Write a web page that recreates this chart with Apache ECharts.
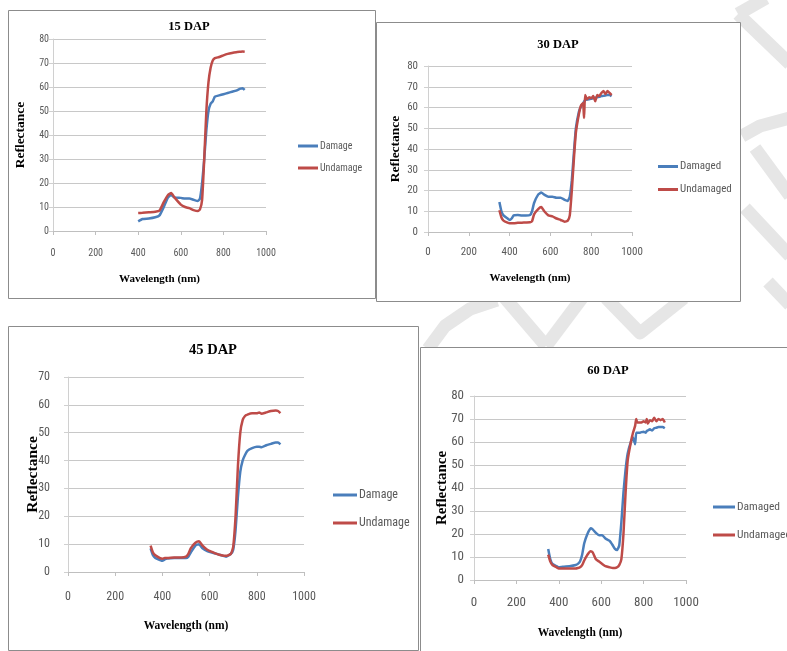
<!DOCTYPE html>
<html>
<head>
<meta charset="utf-8">
<script src="https://cdn.jsdelivr.net/npm/echarts@6/dist/echarts.min.js"></script>
<style>
html,body{margin:0;padding:0;background:#fff;}
#c{width:787px;height:651px;}
</style>
</head>
<body>
<div id="c"></div>
<script>
// ---- Data ----
var titles = ['15 DAP', '30 DAP', '45 DAP', '60 DAP'];
var legendNamesA = ['Damage', 'Undamage'];
var legendNamesB = ['Damaged', 'Undamaged'];
var xTicks = [0, 200, 400, 600, 800, 1000];

// 15 DAP
var wl15 = [400,420,450,480,500,520,540,555,570,600,620,640,660,680,690,700,710,720,730,740,750,760,780,800,820,840,860,880,890,900];
var dmg15 = [4,5,5.2,5.7,6.5,10,14,15,14,13.8,13.5,13.5,13,12.5,13.5,20,30,42,50,53,54,56,56.5,57,57.5,58,58.5,59.3,59.5,58.8];
var und15 = [7.5,7.6,7.8,8,8.5,12,15,15.8,14,11,10,9.5,8.7,8.3,9,13,30,50,62,68,71,72,72.5,73.2,73.8,74.2,74.5,74.7,74.8,74.7];

// 30 DAP
var wl30 = [350,360,370,390,400,410,420,440,460,480,500,510,520,540,555,570,590,610,630,650,670,685,695,705,715,725,740,750,760,765,770,780,790,800,810,820,830,840,850,860,870,880,890,900];
var dmg30 = [14.5,10,8,6.5,5.8,6.5,8,8.2,8,8,8.2,10,14,18,19,18,17,17,16.5,16.5,15.5,15,17,25,38,50,58,60.5,62,62.8,63.5,63.8,64,64.2,64.5,64.7,65,65.2,65.5,65.6,65.8,66,66,65.5];
var und30 = [10.5,7,5.5,4.5,4.2,4.2,4.2,4.4,4.5,4.6,4.7,5.2,8.5,11,12,10,8,7.5,6.5,5.8,5,5.5,8,20,35,48,57,61,62,55,66,64,65,64.5,65.5,63,66,65.5,67,68,66.5,68,67,66];

// 45 DAP
var wl45 = [350,360,370,390,400,410,420,450,480,500,510,520,540,555,570,590,610,630,650,670,690,700,710,720,730,740,750,760,780,800,810,820,840,860,880,890,900];
var dmg45 = [8.5,6,5,4.3,4,4.5,4.8,5,5,5,5.5,7,9.5,10,8.5,7.5,7,6.5,6,5.5,6.5,8,15,27,36,40,42,43.5,44.5,45,45,44.8,45.5,46,46.5,46.5,45.8];
var und45 = [9.5,7,6,5,4.8,5,5,5.2,5.2,5.5,6.5,8.5,10.5,11,9.5,8,7.2,6.5,6,5.8,6.5,9,20,38,50,54.5,56,56.5,57,57,57.3,56.8,57.3,57.8,58,57.8,57];

// 60 DAP
var wl60 = [350,360,370,390,400,420,450,480,490,500,510,520,535,550,560,575,590,605,620,640,655,665,675,685,695,705,715,725,740,750,760,765,770,780,790,800,810,815,820,830,840,850,860,870,880,890,900];
var dmg60 = [13.5,9,7,6,5.5,5.8,6,6.5,7,8,11,16,20,22.5,22,20.5,19.5,19.5,18,17,15,13.5,13,15,25,38,48,55,60,62,59,64,64,64,64.3,64.5,64,64.8,65,65.5,65,66,66.2,66.5,66.5,66.5,66];
var und60 = [11,8,6.5,5.5,5,5,5,5,5.2,5.5,6.5,8.5,11,12.5,12,9,8,7,6,5.5,5.2,5.2,5.5,6.5,9,20,38,52,60,64,67,70,68.5,68.5,68.5,69,68.5,70,68,69.5,69,70.5,69,70,69.5,70,68.5];

// ---- Layout ----
var grids = [
  {left:53, top:39, width:213, height:192},
  {left:428, top:66, width:204, height:166},
  {left:68, top:377, width:236, height:195},
  {left:474, top:396, width:212, height:184}
];
var yMax = [80, 80, 70, 80];
var tickFs = [10, 11, 12, 13];
var xLabMargin = [17, 14.5, 19, 16.5];
var yLabMargin = [4, 10, 18, 10];
var titlePos = [[189,27],[558,45],[213,350],[608,371]];
var titleFs = [12.5, 12.5, 14.5, 12.5];
var yNameFs = [13.5, 13.5, 15.5, 15];
var yNameGap = [25, 25, 27, 24.5];
var xNameFs = [11, 11, 11.5, 11.5];
var xNameGap = [43, 41, 48, 47];
var legendPos = [
  {left:298, top:141, gap:12, w:20, fs:10},
  {left:658, top:161, gap:12, w:20, fs:11},
  {left:333, top:489, gap:16, w:24, fs:12},
  {left:713, top:501, gap:16, w:22, fs:11.5}
];
var panels = [
  {x:8, y:10, w:367, h:288},
  {x:376, y:22, w:364, h:279},
  {x:8, y:326, w:410, h:324},
  {x:420, y:347, w:380, h:310}
];
// light grey watermark fragments visible between the panels
var watermark = [
  [[738,14],[766,-2]],
  [[738,14],[790,64]],
  [[742,136],[760,126],[790,118]],
  [[755,148],[790,196]],
  [[745,208],[790,256]],
  [[768,282],[790,305]],
  [[428,349],[445,326],[470,309],[497,300]],
  [[505,298],[546,346]],
  [[582,298],[546,346]],
  [[606,298],[640,333],[684,298]]
];

var BLUE = '#4a7ebb', RED = '#be4b48';
var tickFont = '"Liberation Sans Narrow","Roboto Condensed",Lato,sans-serif';
var serif = '"Liberation Serif","DejaVu Serif",serif';

function zip(a, b){ var r=[]; for (var i=0;i<a.length;i++) r.push([a[i], b[i]]); return r; }

var sets = [
  {wl:wl15, d:dmg15, u:und15, names:legendNamesA},
  {wl:wl30, d:dmg30, u:und30, names:legendNamesB},
  {wl:wl45, d:dmg45, u:und45, names:legendNamesA},
  {wl:wl60, d:dmg60, u:und60, names:legendNamesB}
];

var option = {
  backgroundColor: '#ffffff',
  animation: false,
  grid: grids.map(function(g){ return {left:g.left, top:g.top, width:g.width, height:g.height, containLabel:false}; }),
  xAxis: grids.map(function(g, i){
    return {
      gridIndex: i, type: 'value', min: xTicks[0], max: xTicks[xTicks.length-1], interval: 200,
      name: 'Wavelength (nm)', nameLocation: 'middle', nameGap: xNameGap[i], nameMoveOverlap: false,
      nameTextStyle: {fontFamily: serif, fontWeight: 'bold', fontSize: xNameFs[i], color: '#000'},
      axisLine: {show: true, onZero: false, lineStyle: {color: '#bfbfbf', width: 1}},
      axisTick: {show: true, inside: false, length: 4, lineStyle: {color: '#bfbfbf'}},
      axisLabel: {color: '#595959', fontSize: tickFs[i], fontFamily: tickFont, margin: xLabMargin[i],
                  formatter: function(v){ return String(v); }},
      splitLine: {show: false}
    };
  }),
  yAxis: grids.map(function(g, i){
    return {
      gridIndex: i, type: 'value', min: 0, max: yMax[i], interval: 10,
      name: 'Reflectance', nameLocation: 'middle', nameGap: yNameGap[i], nameRotate: 90, nameMoveOverlap: false,
      nameTextStyle: {fontFamily: serif, fontWeight: 'bold', fontSize: yNameFs[i], color: '#000'},
      axisLine: {show: true, lineStyle: {color: '#d0d0d0', width: 1}},
      axisTick: {show: true, inside: false, length: 4, lineStyle: {color: '#d0d0d0'}},
      axisLabel: {color: '#595959', fontSize: tickFs[i], fontFamily: tickFont, margin: yLabMargin[i]},
      splitLine: {show: true, lineStyle: {color: '#c8c8c8', width: 1}}
    };
  }),
  legend: legendPos.map(function(p, i){
    return {
      data: sets[i].names, orient: 'vertical', left: p.left, top: p.top, itemGap: p.gap, padding: 0,
      icon: 'rect', itemWidth: p.w, itemHeight: 3, selectedMode: false,
      textStyle: {color: '#595959', fontSize: p.fs, fontFamily: tickFont, padding: [0,0,0,-3]}
    };
  }),
  series: [],
  graphic: []
};

sets.forEach(function(s, i){
  option.series.push({
    name: s.names[0], type: 'line', xAxisIndex: i, yAxisIndex: i,
    data: zip(s.wl, s.d), symbol: 'none', smooth: 0.15,
    lineStyle: {color: BLUE, width: 2.5}, itemStyle: {color: BLUE}, z: 3
  });
  option.series.push({
    name: s.names[1], type: 'line', xAxisIndex: i, yAxisIndex: i,
    data: zip(s.wl, s.u), symbol: 'none', smooth: 0.15,
    lineStyle: {color: RED, width: 2.5}, itemStyle: {color: RED}, z: 4
  });
});

watermark.forEach(function(pts){
  option.graphic.push({
    type: 'polyline', silent: true, z: -20,
    shape: {points: pts},
    style: {fill: null, stroke: '#e6e6e6', lineWidth: 13, lineJoin: 'round'}
  });
});
panels.forEach(function(p){
  option.graphic.push({
    type: 'rect', silent: true, z: -10,
    shape: {x: p.x + 0.5, y: p.y + 0.5, width: p.w, height: p.h},
    style: {fill: '#ffffff', stroke: '#8c8c8c', lineWidth: 1}
  });
});
titles.forEach(function(t, i){
  option.graphic.push({
    type: 'text', silent: true, x: titlePos[i][0], y: titlePos[i][1], z: 10,
    style: {text: t, fill: '#000', font: 'bold ' + titleFs[i] + 'px ' + serif, textAlign: 'center', textVerticalAlign: 'middle'}
  });
});

var chart = echarts.init(document.getElementById('c'), null, {renderer: 'canvas'});
chart.setOption(option);
</script>
</body>
</html>
